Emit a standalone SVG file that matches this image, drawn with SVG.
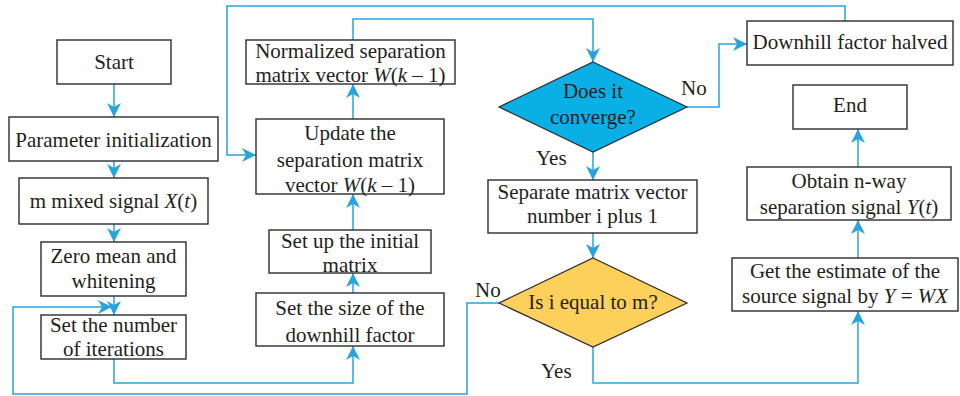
<svg xmlns="http://www.w3.org/2000/svg" width="960" height="396" viewBox="0 0 960 396">
<defs>
<marker id="ah" markerUnits="userSpaceOnUse" markerWidth="14" markerHeight="14" refX="12" refY="6" orient="auto" viewBox="0 0 12 12">
<path d="M0,0 L12,6 L0,12 L3.5,6 Z" fill="#29A3DD"/>
</marker>
<style>
.box{fill:#fff;stroke:#2b2b2b;stroke-width:1.4}
.t{font-family:"Liberation Serif","DejaVu Serif",serif;font-size:21px;fill:#231F20;text-anchor:middle}
.l{font-family:"Liberation Serif","DejaVu Serif",serif;font-size:21px;fill:#231F20}
.c{fill:none;stroke:#29A3DD;stroke-width:1.5}
.a{marker-end:url(#ah)}
</style>
</defs>
<rect width="960" height="396" fill="#fff"/>
<g id="connectors">
<path class="c a" d="M114,84 V117"/>
<path class="c a" d="M114,161 V178"/>
<path class="c a" d="M114,224 V242"/>
<path class="c a" d="M114,296 V315"/>
<path class="c a" d="M114,359 V383 H353 V346"/>
<path class="c a" d="M353,293 V273"/>
<path class="c a" d="M353,230 V194"/>
<path class="c a" d="M353,119 V84"/>
<path class="c a" d="M353,40 V19 H593 V62"/>
<path class="c a" d="M687,107 H719 V44 H747"/>
<path class="c a" d="M593,152 V180"/>
<path class="c a" d="M845,21 V6 H227 V155 H256"/>
<path class="c a" d="M593,233 V258"/>
<path class="c a" d="M499,303 H467 V394 H13 V307 H112"/>
<path class="c a" d="M593,347 V383 H858 V311"/>
<path class="c a" d="M858,258 V220"/>
<path class="c a" d="M858,167 V129"/>
</g>
<g id="start"><rect class="box" x="57" y="40" width="114" height="44"/><text class="t" x="114" y="69">Start</text></g>
<g id="param"><rect class="box" x="9" y="117" width="209" height="44"/><text class="t" x="113.5" y="147">Parameter initialization</text></g>
<g id="mixed"><rect class="box" x="19" y="178" width="189" height="46"/><text class="t" x="113.5" y="208">m mixed signal <tspan font-style="italic">X</tspan>(<tspan font-style="italic">t</tspan>)</text></g>
<g id="zero"><rect class="box" x="41" y="242" width="145" height="54"/><text class="t" x="113.5" y="263">Zero mean and</text><text class="t" x="113.5" y="288">whitening</text></g>
<g id="iter"><rect class="box" x="41" y="315" width="145" height="44"/><text class="t" x="113.5" y="332">Set the number</text><text class="t" x="113.5" y="356">of iterations</text></g>
<g id="normalized"><rect class="box" x="246" y="40" width="209" height="44"/><text class="t" x="350.5" y="58">Normalized separation</text><text class="t" x="350.5" y="82">matrix vector <tspan font-style="italic">W</tspan>(<tspan font-style="italic">k</tspan> – 1)</text></g>
<g id="update"><rect class="box" x="256" y="119" width="188" height="75"/><text class="t" x="350" y="140">Update the</text><text class="t" x="350" y="167">separation matrix</text><text class="t" x="350" y="192">vector <tspan font-style="italic">W</tspan>(<tspan font-style="italic">k</tspan> – 1)</text></g>
<g id="initial"><rect class="box" x="269" y="230" width="162" height="43"/><text class="t" x="350" y="248">Set up the initial</text><text class="t" x="350" y="272">matrix</text></g>
<g id="size"><rect class="box" x="256" y="293" width="188" height="53"/><text class="t" x="350" y="315">Set the size of the</text><text class="t" x="350" y="342">downhill factor</text></g>
<g id="converge"><polygon points="593,62 687,107 593,152 499,107" fill="#0AAFE6" stroke="#2b2b2b" stroke-width="1.2"/><text class="t" x="593" y="98">Does it</text><text class="t" x="593" y="124">converge?</text><text class="l" x="681" y="95">No</text><text class="l" x="536" y="165">Yes</text></g>
<g id="separate"><rect class="box" x="488" y="180" width="209" height="53"/><text class="t" x="592.5" y="199">Separate matrix vector</text><text class="t" x="592.5" y="223">number i plus 1</text></g>
<g id="equal"><polygon points="593,258 687,303 593,347 499,303" fill="#FDCF5B" stroke="#2b2b2b" stroke-width="1.2"/><text class="t" x="593" y="309">Is i equal to m?</text><text class="l" x="475" y="297">No</text><text class="l" x="541" y="378">Yes</text></g>
<g id="halved"><rect class="box" x="747" y="21" width="206" height="44"/><text class="t" x="850" y="49">Downhill factor halved</text></g>
<g id="end"><rect class="box" x="793" y="85" width="114" height="44"/><text class="t" x="850" y="112">End</text></g>
<g id="obtain"><rect class="box" x="747" y="167" width="204" height="53"/><text class="t" x="849" y="188">Obtain n-way</text><text class="t" x="849" y="214">separation signal <tspan font-style="italic">Y</tspan>(<tspan font-style="italic">t</tspan>)</text></g>
<g id="estimate"><rect class="box" x="732" y="258" width="226" height="53"/><text class="t" x="845" y="278">Get the estimate of the</text><text class="t" x="845" y="303">source signal by <tspan font-style="italic">Y</tspan> = <tspan font-style="italic">WX</tspan></text></g>
</svg>
